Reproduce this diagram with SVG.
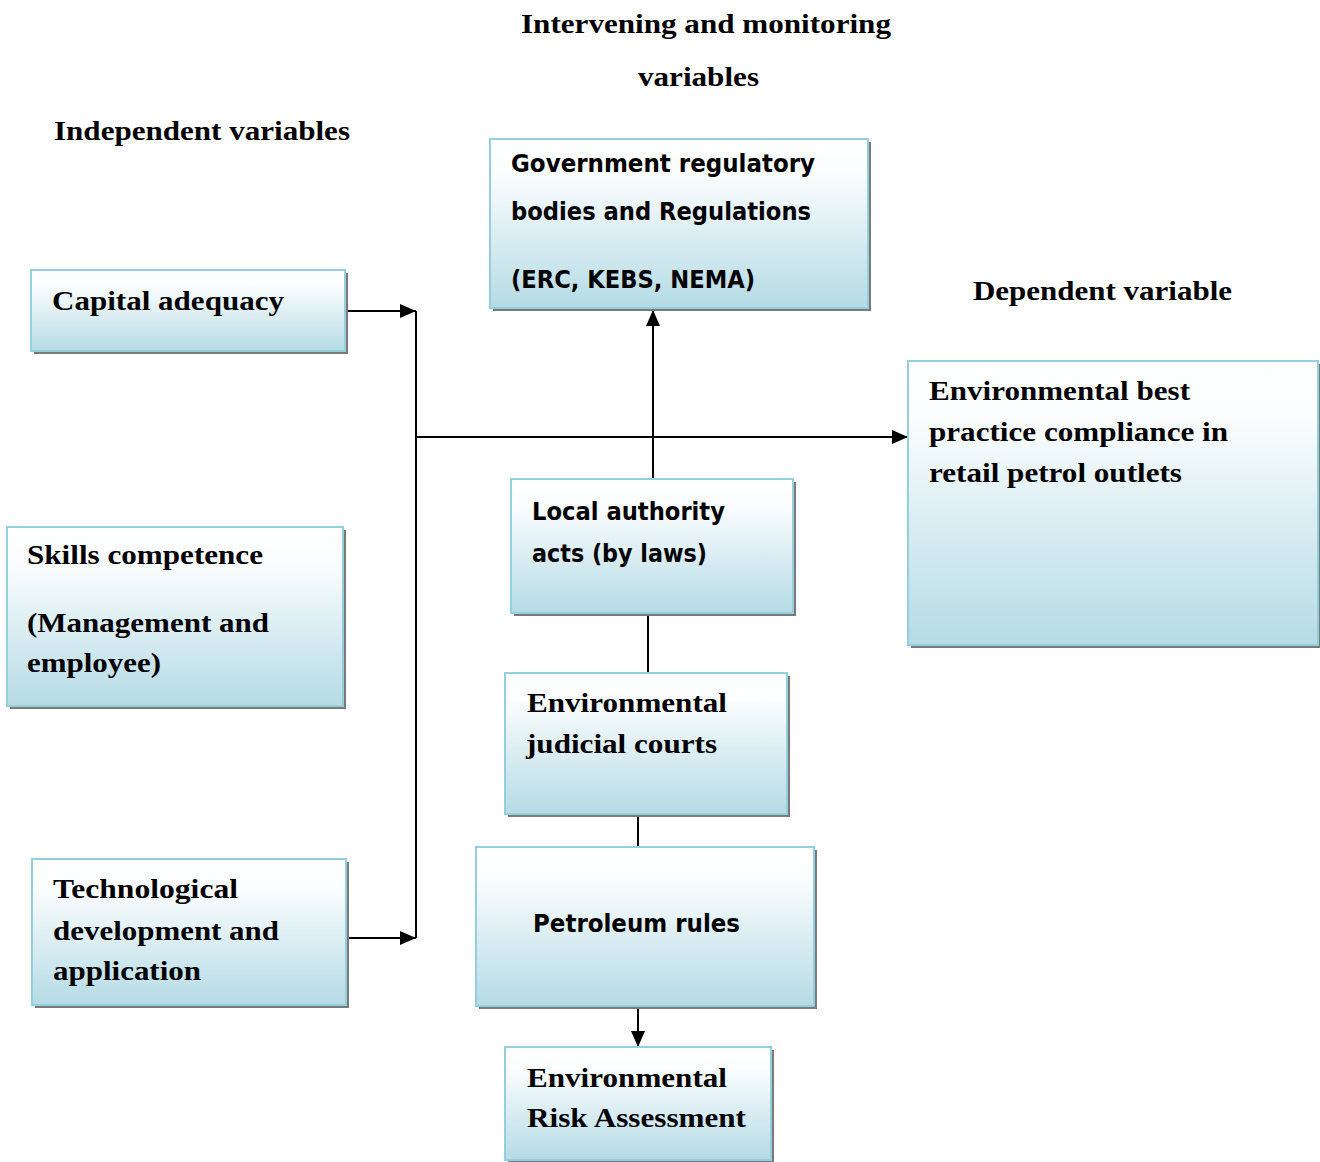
<svg xmlns="http://www.w3.org/2000/svg" width="1320" height="1162" viewBox="0 0 1320 1162">
<style>
.box{fill:url(#g);stroke:#93cfdd;stroke-width:2}
.sh{fill:#7a7a7a}
.s{font-family:"Liberation Serif","Times New Roman",serif;font-weight:700;font-size:28px;fill:#000}
.t{font-family:"DejaVu Sans Condensed","DejaVu Sans","Liberation Sans",sans-serif;font-stretch:condensed;font-weight:700;font-size:25px;fill:#000}
.c{stroke:#000;stroke-width:2;fill:none}
</style>
<defs>
<linearGradient id="g" x1="0" y1="0" x2="0" y2="1">
<stop offset="0" stop-color="#ffffff"/>
<stop offset="0.2" stop-color="#fbfdfe"/>
<stop offset="1" stop-color="#b5dbe5"/>
</linearGradient>
<marker id="a" viewBox="0 0 16 14" refX="16" refY="7" markerWidth="16" markerHeight="14" markerUnits="userSpaceOnUse" orient="auto">
<path d="M0,0 L16,7 L0,14 Z" fill="#000"/>
</marker>
</defs>

<g id="headings">
<text class="s" x="521" y="33" textLength="370" lengthAdjust="spacingAndGlyphs">Intervening and monitoring</text>
<text class="s" x="638" y="86" textLength="121" lengthAdjust="spacingAndGlyphs">variables</text>
<text class="s" x="54" y="140" textLength="296" lengthAdjust="spacingAndGlyphs">Independent variables</text>
<text class="s" x="973" y="300" textLength="259" lengthAdjust="spacingAndGlyphs">Dependent variable</text>
</g>

<g id="connectors">
<path class="c" d="M345,311 H416" marker-end="url(#a)"/>
<path class="c" d="M416,311 V938"/>
<path class="c" d="M346,938 H416" marker-end="url(#a)"/>
<path class="c" d="M416,437 H908" marker-end="url(#a)"/>
<path class="c" d="M653,479 V310" marker-end="url(#a)"/>
<path class="c" d="M648,613 V673"/>
<path class="c" d="M638,814 V847"/>
<path class="c" d="M638,1006 V1047" marker-end="url(#a)"/>
</g>

<g id="capital">
<rect class="sh" x="34" y="273" width="314" height="81"/>
<rect class="box" x="31" y="270" width="314" height="81"/>
<text class="s" x="52" y="310" textLength="232" lengthAdjust="spacingAndGlyphs">Capital adequacy</text>
</g>

<g id="government">
<rect class="sh" x="493" y="142" width="378" height="169"/>
<rect class="box" x="490" y="139" width="378" height="169"/>
<text class="t" x="511" y="172" textLength="304" lengthAdjust="spacingAndGlyphs">Government regulatory</text>
<text class="t" x="511" y="220" textLength="300" lengthAdjust="spacingAndGlyphs">bodies and Regulations</text>
<text class="t" x="511" y="288" textLength="244" lengthAdjust="spacingAndGlyphs">(ERC, KEBS, NEMA)</text>
</g>

<g id="dependent">
<rect class="sh" x="911" y="364" width="410" height="284"/>
<rect class="box" x="908" y="361" width="410" height="284"/>
<text class="s" x="929" y="400" textLength="261" lengthAdjust="spacingAndGlyphs">Environmental best</text>
<text class="s" x="929" y="441" textLength="299" lengthAdjust="spacingAndGlyphs">practice compliance in</text>
<text class="s" x="929" y="482" textLength="253" lengthAdjust="spacingAndGlyphs">retail petrol outlets</text>
</g>

<g id="local">
<rect class="sh" x="514" y="482" width="282" height="134"/>
<rect class="box" x="511" y="479" width="282" height="134"/>
<text class="t" x="532" y="520" textLength="193" lengthAdjust="spacingAndGlyphs">Local authority</text>
<text class="t" x="532" y="562" textLength="175" lengthAdjust="spacingAndGlyphs">acts (by laws)</text>
</g>

<g id="skills">
<rect class="sh" x="10" y="530" width="336" height="179"/>
<rect class="box" x="7" y="527" width="336" height="179"/>
<text class="s" x="27" y="564" textLength="236" lengthAdjust="spacingAndGlyphs">Skills competence</text>
<text class="s" x="27" y="632" textLength="242" lengthAdjust="spacingAndGlyphs">(Management and</text>
<text class="s" x="27" y="672" textLength="134" lengthAdjust="spacingAndGlyphs">employee)</text>
</g>

<g id="judicial">
<rect class="sh" x="508" y="676" width="282" height="141"/>
<rect class="box" x="505" y="673" width="282" height="141"/>
<text class="s" x="527" y="712" textLength="200" lengthAdjust="spacingAndGlyphs">Environmental</text>
<text class="s" x="526" y="753" textLength="191" lengthAdjust="spacingAndGlyphs">judicial courts</text>
</g>

<g id="technological">
<rect class="sh" x="35" y="862" width="314" height="146"/>
<rect class="box" x="32" y="859" width="314" height="146"/>
<text class="s" x="53" y="898" textLength="185" lengthAdjust="spacingAndGlyphs">Technological</text>
<text class="s" x="53" y="940" textLength="226" lengthAdjust="spacingAndGlyphs">development and</text>
<text class="s" x="53" y="980" textLength="148" lengthAdjust="spacingAndGlyphs">application</text>
</g>

<g id="petroleum">
<rect class="sh" x="479" y="850" width="338" height="159"/>
<rect class="box" x="476" y="847" width="338" height="159"/>
<text class="t" x="533" y="932" textLength="207" lengthAdjust="spacingAndGlyphs">Petroleum rules</text>
</g>

<g id="risk">
<rect class="sh" x="508" y="1050" width="266" height="113"/>
<rect class="box" x="505" y="1047" width="266" height="113"/>
<text class="s" x="527" y="1087" textLength="200" lengthAdjust="spacingAndGlyphs">Environmental</text>
<text class="s" x="527" y="1127" textLength="219" lengthAdjust="spacingAndGlyphs">Risk Assessment</text>
</g>
</svg>
